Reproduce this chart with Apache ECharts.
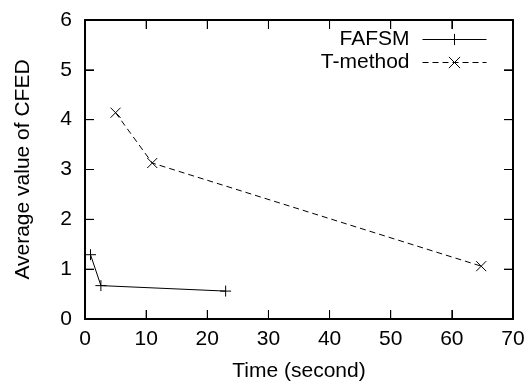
<!DOCTYPE html>
<html>
<head>
<meta charset="utf-8">
<script src="https://cdn.jsdelivr.net/npm/echarts@6/dist/echarts.min.js"></script>
<style>
html, body { margin: 0; padding: 0; background: #fff; }
#chart { width: 530px; height: 387px; }
</style>
</head>
<body>
<div id="chart"></div>
<script>
// values
const fafsmTime = [0.9, 2.6, 23.0]
const fafsmCfed = [1.29, 0.67, 0.56]
const tmethodTime = [5.0, 11.0, 64.8]
const tmethodCfed = [4.14, 3.13, 1.06]
const seriesNames = ['FAFSM', 'T-method']
const xRange = [0, 70]
const yRange = [0, 6]
const xTicks = [10, 20, 30, 40, 50, 60]
const yTicks = [1, 2, 3, 4, 5]

const toPairs = (xs, ys) => xs.map((x, i) => [x, ys[i]])

const plusSymbol = 'path://M0,5L10,5M5,0L5,10'
const crossSymbol = 'path://M0,0L10,10M0,10L10,0'
const font = 'Liberation Sans, Arial, Helvetica, sans-serif'
const tickLen = 9

const myChart = echarts.init(document.getElementById('chart'))

const tick = () => ({ show: true, inside: true, length: tickLen, lineStyle: { color: '#000', width: 1 } })
const line = () => ({ show: true, onZero: false, lineStyle: { color: '#000', width: 2 } })

const tickLine = (x1, y1, x2, y2) => ({
    type: 'line',
    shape: { x1, y1, x2, y2 },
    style: { stroke: '#000', lineWidth: 1 }
})

// gnuplot style mirrored ticks, placed through the axes' own scales
const xTickSeries = {
    type: 'custom',
    silent: true,
    clip: false,
    data: xTicks.map(v => [v, yRange[0]]),
    renderItem: (params, api) => {
        const v = api.value(0)
        const b = api.coord([v, yRange[0]])
        const t = api.coord([v, yRange[1]])
        return {
            type: 'group',
            children: [
                tickLine(b[0], b[1], b[0], b[1] - tickLen),
                tickLine(t[0], t[1], t[0], t[1] + tickLen)
            ]
        }
    }
}

const yTickSeries = {
    type: 'custom',
    silent: true,
    clip: false,
    data: yTicks.map(v => [xRange[0], v]),
    renderItem: (params, api) => {
        const v = api.value(1)
        const l = api.coord([xRange[0], v])
        const r = api.coord([xRange[1], v])
        return {
            type: 'group',
            children: [
                tickLine(l[0], l[1], l[0] + tickLen, l[1]),
                tickLine(r[0], r[1], r[0] - tickLen, r[1])
            ]
        }
    }
}

const option = {
    animation: false,
    textStyle: { fontFamily: font },
    grid: {
        left: 85,
        right: 17,
        top: 20,
        bottom: 66
    },
    legend: {
        data: seriesNames,
        orient: 'vertical',
        align: 'right',
        right: 38,
        top: 24,
        itemWidth: 64,
        itemHeight: 14,
        itemGap: 2,
        lineStyle: { width: 1 },
        itemStyle: { borderWidth: 1 },
        textStyle: { fontSize: 21, color: '#000', fontFamily: font, padding: [0, 8, 0, 0] }
    },
    xAxis: [
        {
            type: 'value',
            min: xRange[0],
            max: xRange[1],
            interval: 10,
            name: 'Time (second)',
            nameLocation: 'middle',
            nameGap: 42,
            nameTextStyle: { fontSize: 21, color: '#000' },
            axisLine: line(),
            axisTick: tick(),
            axisLabel: { fontSize: 21, color: '#000', margin: 10 },
            splitLine: { show: false }
        },
        {
            type: 'value',
            position: 'top',
            min: xRange[0],
            max: xRange[1],
            interval: 10,
            axisLine: line(),
            axisTick: tick(),
            axisLabel: { show: false },
            splitLine: { show: false }
        }
    ],
    yAxis: [
        {
            type: 'value',
            min: yRange[0],
            max: yRange[1],
            interval: 1,
            name: 'Average value of CFED',
            nameLocation: 'middle',
            nameGap: 51,
            nameTextStyle: { fontSize: 21, color: '#000' },
            axisLine: line(),
            axisTick: tick(),
            axisLabel: { fontSize: 21, color: '#000', margin: 13 },
            splitLine: { show: false }
        },
        {
            type: 'value',
            position: 'right',
            min: yRange[0],
            max: yRange[1],
            interval: 1,
            axisLine: line(),
            axisTick: tick(),
            axisLabel: { show: false },
            splitLine: { show: false }
        }
    ],
    series: [
        {
            name: seriesNames[0],
            type: 'line',
            data: toPairs(fafsmTime, fafsmCfed),
            symbol: plusSymbol,
            symbolSize: 11,
            showAllSymbol: true,
            lineStyle: { color: '#000', width: 1 },
            itemStyle: { color: '#000', borderColor: '#000', borderWidth: 1 }
        },
        {
            name: seriesNames[1],
            type: 'line',
            data: toPairs(tmethodTime, tmethodCfed),
            symbol: crossSymbol,
            symbolSize: 10,
            showAllSymbol: true,
            lineStyle: { color: '#000', width: 1, type: [6, 4] },
            itemStyle: { color: '#000', borderColor: '#000', borderWidth: 1 }
        },
        xTickSeries,
        yTickSeries
    ]
}

myChart.setOption(option)
</script>
</body>
</html>
